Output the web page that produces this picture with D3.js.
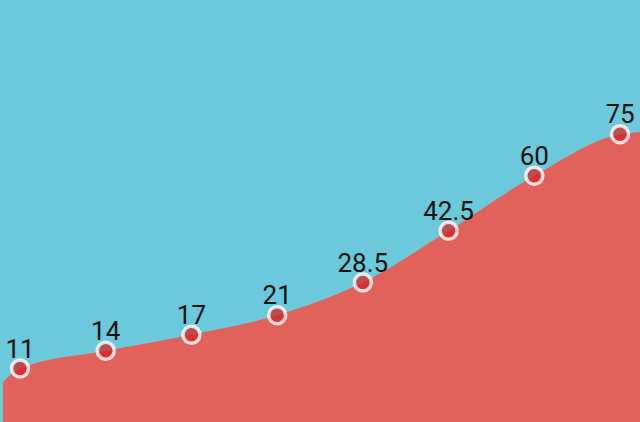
<!DOCTYPE html>
<html>
<head>
<meta charset="utf-8">
<script src="https://cdn.jsdelivr.net/npm/d3@7/dist/d3.min.js"></script>
<style>
html,body{margin:0;padding:0;background:#6BC9DB;overflow:hidden;}
svg{display:block;}
</style>
</head>
<body>
<svg id="chart" width="640" height="422"></svg>
<script>
const categories = [0, 1, 2, 3, 4, 5, 6, 7];
const values = [11, 14, 17, 21, 28.5, 42.5, 60, 75];
const labels = ["11", "14", "17", "21", "28.5", "42.5", "60", "75"];
// series continues beyond the visible points at the plot edges
const edgeValues = [8.9, 75.9];

const W = 640, H = 422;
const plotLeft = 3, plotRight = W;
const svg = d3.select("#chart");

svg.append("rect").attr("width", W).attr("height", H).attr("fill", "#6BC9DB");

const x = d3.scaleLinear().domain([0, categories.length - 1]).range([20, 620]);
const y = d3.scalePow().exponent(0.55).domain(d3.extent(values)).range([368.5, 134.3]);

const pts = categories.map((c, i) => ({ i: c, v: values[i], label: labels[i] }));
const areaPts = [{ i: x.invert(plotLeft), v: edgeValues[0] }, ...pts, { i: x.invert(plotRight), v: edgeValues[1] }];

const area = d3.area()
  .x(d => x(d.i))
  .y0(H)
  .y1(d => y(d.v))
  .curve(d3.curveMonotoneX);

svg.append("path").datum(areaPts).attr("d", area).attr("fill", "#E0625B");

svg.selectAll("circle.pt").data(pts).join("circle")
  .attr("class", "pt")
  .attr("cx", d => x(d.i))
  .attr("cy", d => y(d.v))
  .attr("r", 8.5)
  .attr("fill", "#D42020")
  .attr("fill-opacity", 0.72)
  .attr("stroke", "#ffffff")
  .attr("stroke-opacity", 0.8)
  .attr("stroke-width", 3.5);

svg.selectAll("text.lbl").data(pts).join("text")
  .attr("class", "lbl")
  .attr("x", d => x(d.i))
  .attr("y", d => y(d.v) - 11)
  .attr("text-anchor", "middle")
  .attr("font-family", "Roboto, sans-serif")
  .attr("font-size", 26)
  .attr("fill", "#111")
  .text(d => d.label);
</script>
</body>
</html>
